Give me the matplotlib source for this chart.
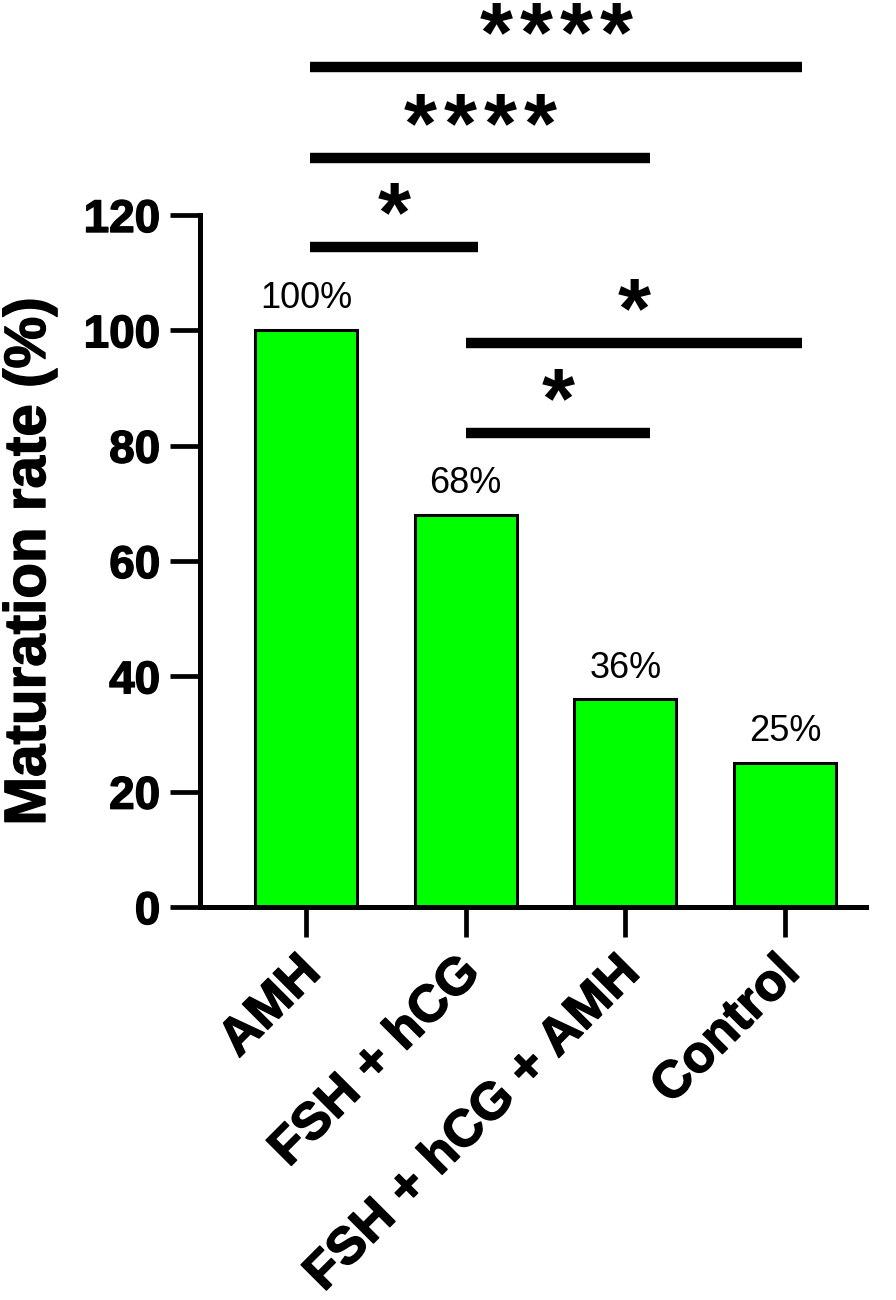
import matplotlib
matplotlib.use("Agg")
from matplotlib import pyplot as plt
from matplotlib import patheffects as pe

plt.rcParams['font.family'] = ['Liberation Sans', 'DejaVu Sans']

# data
groups = ["AMH", "FSH + hCG", "FSH + hCG + AMH", "Control"]
rates = [100, 68, 36, 25]
rate_labels = ["100%", "68%", "36%", "25%"]

# significance brackets: (x start, x end, height, number of stars)
sig_x1 = [0.025, 0.025, 0.025, 1.0, 1.0]
sig_x2 = [3.106, 2.154, 1.077, 3.106, 2.154]
sig_y = [145.7, 129.9, 114.4, 97.8, 82.2]
sig_stars = [4, 4, 1, 1, 1]

heavy = [pe.withStroke(linewidth=1.0, foreground="black")]
px = 0.72  # points per pixel at dpi 100

fig = plt.figure(figsize=(8.96, 13), dpi=100)
ax = fig.add_axes([200 / 896, (1300 - 907) / 1300, (866 - 200) / 896, (907 - 215) / 1300])

x = list(range(len(groups)))
ax.bar(x, rates, width=0.64, color="#00ff00", edgecolor="black", linewidth=2.2, zorder=2)

for xi, v, lab in zip(x, rates, rate_labels):
    ax.annotate(lab, xy=(xi, v), xytext=(0, 10), textcoords="offset points",
                ha="center", va="bottom", fontsize=26)

for x1, x2, y, n in zip(sig_x1, sig_x2, sig_y, sig_stars):
    ax.plot([x1, x2], [y, y], color="black", lw=7.5, solid_capstyle="butt", clip_on=False)
    for i in range(n):
        ax.annotate("*", xy=((x1 + x2) / 2, y),
                    xytext=((i - (n - 1) / 2) * 40 * px, 6 * px), textcoords="offset points",
                    ha="center", va="baseline", fontsize=61, fontweight="bold",
                    annotation_clip=False)

ax.set_xlim(-0.664, 3.507)
ax.set_ylim(0, 120)
ax.set_yticks([0, 20, 40, 60, 80, 100, 120])
ax.set_xticks(x)
ax.set_xticklabels([])
for xi, g in zip(x, groups):
    ax.annotate(g, xy=(xi, 0), xytext=(7 * px, -58 * px), textcoords="offset points",
                rotation=45, ha="right", va="center", rotation_mode="anchor",
                fontsize=37.5, fontweight="bold", annotation_clip=False,
                path_effects=heavy)
for t in ax.get_yticklabels():
    t.set_fontsize(33)
    t.set_fontweight("bold")
    t.set_path_effects(heavy)

ax.spines["top"].set_visible(False)
ax.spines["right"].set_visible(False)
ax.spines["left"].set_linewidth(3.6)
ax.spines["bottom"].set_linewidth(3.6)
ax.tick_params(axis="both", length=21.5, width=3.4, color="black")
ax.tick_params(axis="y", pad=7)

ylab = ax.set_ylabel("Maturation rate (%)", fontsize=42, fontweight="bold")
ylab.set_path_effects(heavy)
ax.yaxis.set_label_coords(-143 / 666, 0.5)

fig.savefig("out.png", dpi=100)
